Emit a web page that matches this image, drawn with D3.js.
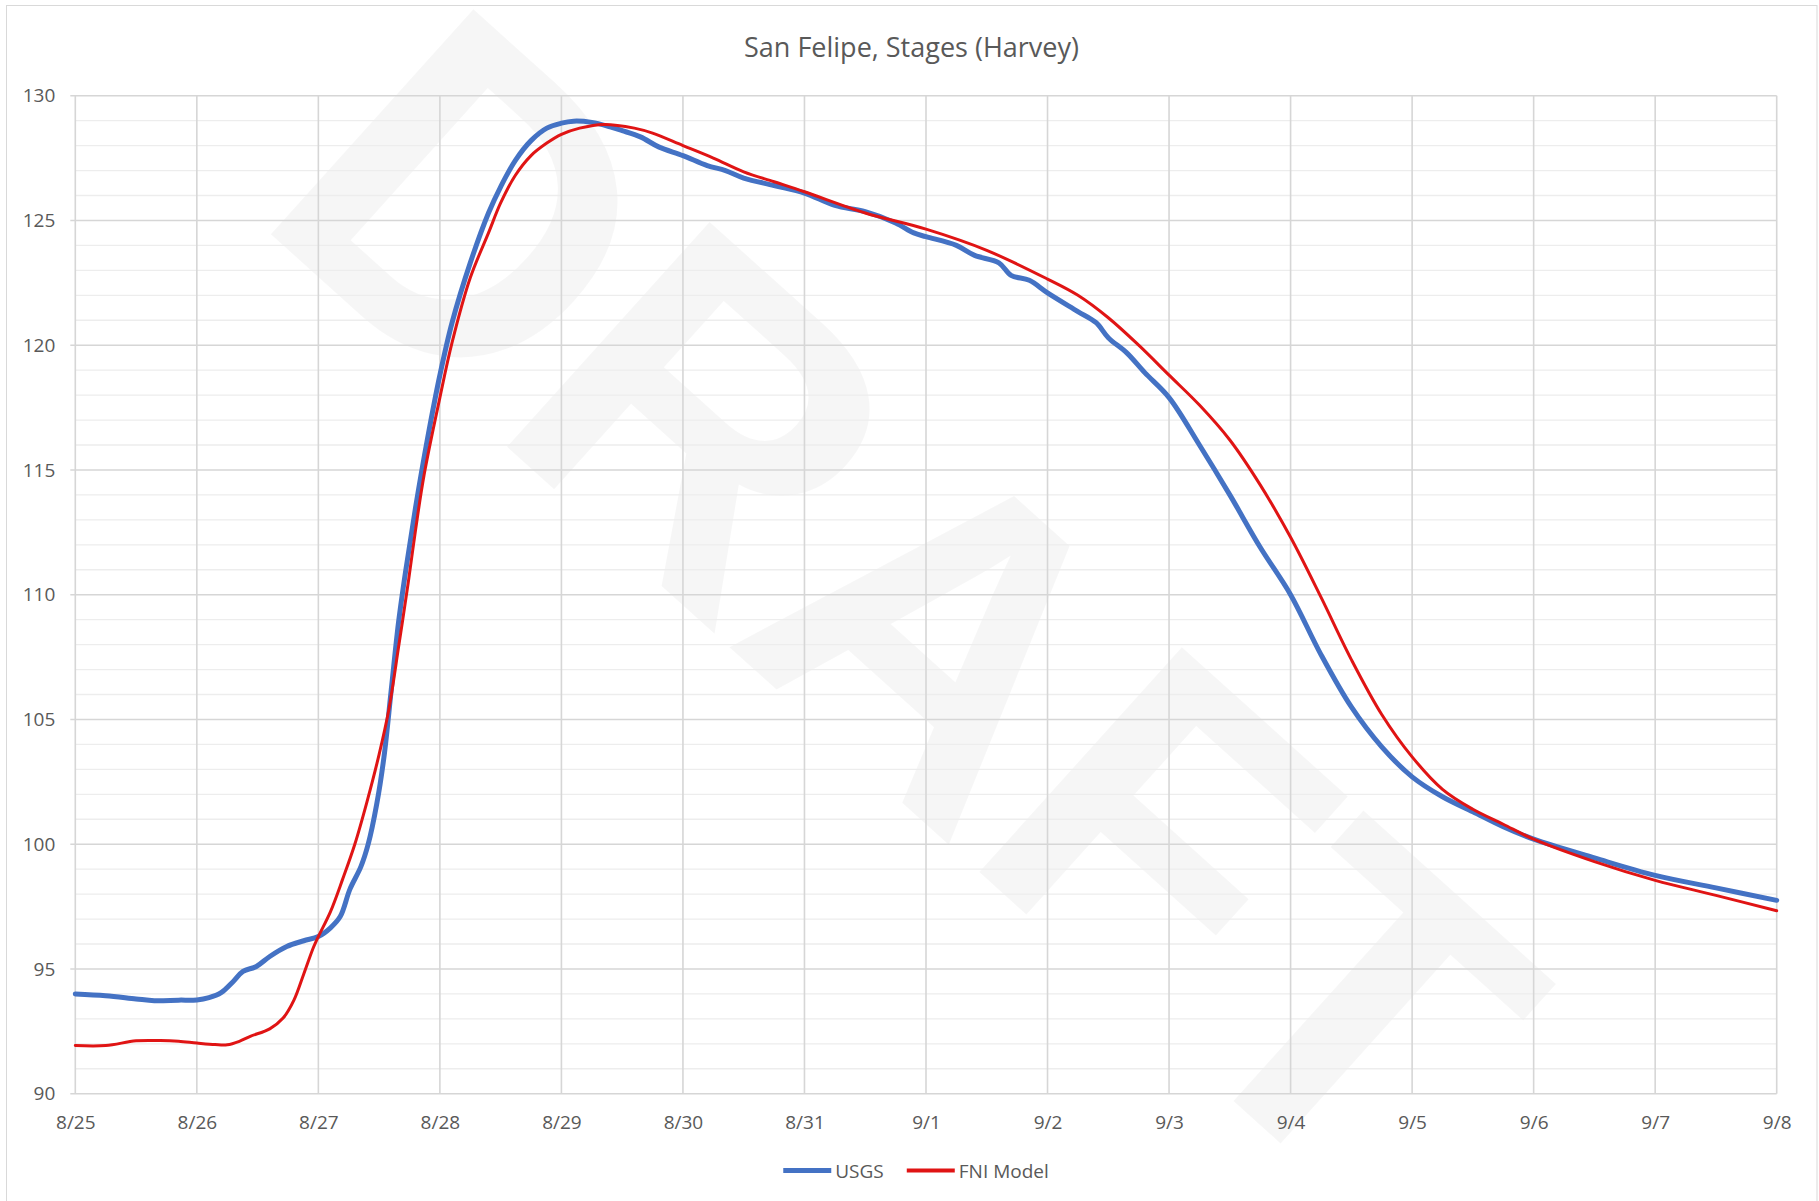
<!DOCTYPE html>
<html><head><meta charset="utf-8">
<script src="https://cdn.jsdelivr.net/npm/d3@7"></script>
<style>
body{margin:0;background:#fff}
svg{display:block}
text{font-family:"Open Sans",sans-serif}
</style>
</head><body>
<svg id="chart" width="1819" height="1201"></svg>
<script>
const chartTitle = "San Felipe, Stages (Harvey)";
const xTickLabels = ["8/25","8/26","8/27","8/28","8/29","8/30","8/31","9/1","9/2","9/3","9/4","9/5","9/6","9/7","9/8"];
const yTickValues = [90,95,100,105,110,115,120,125,130];
const seriesNames = ["USGS","FNI Model"];
const watermarkText = "DRAFT";

// days after 8/25 00:00
const usgsDays = [0,0.25,0.5,0.65,0.85,1.0,1.1,1.2,1.3,1.38,1.49,1.6,1.74,1.88,2.0,2.1,2.18,2.26,2.35,2.41,2.48,2.54,2.6,2.66,2.72,2.8,2.9,3.0,3.1,3.25,3.4,3.5,3.62,3.75,3.88,4.0,4.1,4.25,4.4,4.5,4.65,4.8,5.0,5.2,5.35,5.5,5.75,6.0,6.25,6.5,6.75,6.9,7.0,7.25,7.4,7.6,7.7,7.85,8.0,8.25,8.4,8.5,8.65,8.8,9.0,9.25,9.5,9.75,10.0,10.25,10.5,10.75,11.0,11.25,11.5,11.75,12.0,12.5,13.0,13.5,14.0];
const usgsStage = [94.0,93.93,93.8,93.73,93.75,93.76,93.85,94.05,94.5,94.9,95.1,95.5,95.9,96.13,96.3,96.65,97.1,98.2,99.1,100.0,101.6,103.5,106.2,108.9,111.0,113.5,116.3,118.8,120.9,123.3,125.3,126.35,127.4,128.2,128.7,128.9,128.98,128.93,128.75,128.6,128.35,127.95,127.6,127.2,127.0,126.7,126.4,126.1,125.6,125.35,124.9,124.5,124.35,124.0,123.6,123.3,122.8,122.6,122.1,121.35,120.9,120.3,119.7,118.9,117.9,116.0,114.0,111.9,110.0,107.6,105.5,103.9,102.7,101.9,101.3,100.7,100.2,99.45,98.75,98.25,97.75];

const fniDays = [0,0.25,0.5,0.7,0.85,1.0,1.15,1.25,1.35,1.44,1.6,1.71,1.8,1.88,1.96,2.0,2.1,2.2,2.3,2.4,2.5,2.58,2.66,2.74,2.8,2.87,3.0,3.1,3.25,3.4,3.5,3.62,3.75,3.88,4.0,4.15,4.35,4.6,4.75,5.0,5.25,5.5,5.75,6.0,6.5,7.0,7.5,8.0,8.25,8.5,8.75,9.0,9.25,9.5,9.75,10.0,10.25,10.5,10.75,11.0,11.25,11.5,11.75,12.0,12.5,13.0,13.5,14.0];
const fniStage = [91.93,91.93,92.12,92.13,92.1,92.03,91.97,91.96,92.1,92.3,92.6,93.03,93.76,94.8,95.87,96.3,97.3,98.6,100.0,101.7,103.6,105.4,107.9,110.5,112.6,114.8,117.9,120.1,122.7,124.5,125.7,126.8,127.6,128.1,128.45,128.7,128.85,128.7,128.5,128.0,127.5,126.95,126.55,126.15,125.3,124.65,123.8,122.65,122.0,121.1,120.0,118.8,117.6,116.2,114.4,112.3,109.9,107.4,105.2,103.5,102.2,101.4,100.8,100.2,99.3,98.55,97.95,97.33];

const seriesColors = ["#4472C4","#E01414"];
const seriesWidths = [5,3];

const W = 1819, H = 1201;
const svg = d3.select("#chart");
const plot = {left:75.3, right:1776.7, top:95.7, bottom:1093.7};

const x = d3.scaleLinear().domain([0, xTickLabels.length-1]).range([plot.left, plot.right]);
const y = d3.scaleLinear().domain([d3.min(yTickValues), d3.max(yTickValues)]).range([plot.bottom, plot.top]);

// background + border
svg.append("rect").attr("x",0).attr("y",0).attr("width",W).attr("height",H).attr("fill","#fff");
svg.append("rect").attr("x",6.5).attr("y",5.5).attr("width",1810.5).attr("height",1205)
  .attr("fill","none").attr("stroke","#d9d9d9").attr("stroke-width",1);

// watermark, letter by letter along a rotated baseline
const wm = svg.append("g").attr("transform","translate(905,600) rotate(42)");
const wmLetters = watermarkText.split("").map(ch =>
  wm.append("text").attr("y",0).attr("dominant-baseline","central")
    .style("font-family","'Liberation Sans',Arial,sans-serif").style("font-weight","700")
    .attr("font-size",440).attr("fill","#000").attr("fill-opacity",0.035).text(ch));
const wmWidths = wmLetters.map(t => t.node().getComputedTextLength());
let wx = -d3.sum(wmWidths)/2;
wmLetters.forEach((t,i)=>{ t.attr("x",wx); wx += wmWidths[i]; });

// minor grid
const g = svg.append("g");
const [y0,y1] = y.domain();
g.selectAll("line.minor").data(d3.range(y0,y1+1).filter(v=>v%5!==0)).join("line")
  .attr("x1",plot.left).attr("x2",plot.right).attr("y1",d=>y(d)).attr("y2",d=>y(d))
  .attr("stroke","#ededed").attr("stroke-width",1.3);
// major horizontal
g.selectAll("line.major").data(yTickValues).join("line")
  .attr("x1",plot.left-5).attr("x2",plot.right).attr("y1",d=>y(d)).attr("y2",d=>y(d))
  .attr("stroke","#d6d6d6").attr("stroke-width",1.6);
// vertical
g.selectAll("line.vert").data(d3.range(xTickLabels.length)).join("line")
  .attr("x1",d=>x(d)).attr("x2",d=>x(d)).attr("y1",plot.top).attr("y2",plot.bottom)
  .attr("stroke","#d6d6d6").attr("stroke-width",1.6);

// axes
const yAxis = svg.append("g").attr("transform",`translate(${plot.left},0)`)
  .call(d3.axisLeft(y).tickValues(yTickValues).tickSize(0).tickPadding(20));
const xAxis = svg.append("g").attr("transform",`translate(0,${plot.bottom})`)
  .call(d3.axisBottom(x).tickValues(d3.range(xTickLabels.length)).tickFormat(i=>xTickLabels[i]).tickSize(0).tickPadding(22));
[yAxis,xAxis].forEach(a=>{
  a.select(".domain").remove();
  a.selectAll("text").attr("fill","#595959").attr("font-size",19).style("font-family","'Open Sans',sans-serif");
});

// lines
const line = d3.line().x(d=>x(d[0])).y(d=>y(d[1])).curve(d3.curveCatmullRom.alpha(0.5));
const series = [
  {name:seriesNames[0], pts:d3.zip(usgsDays,usgsStage)},
  {name:seriesNames[1], pts:d3.zip(fniDays,fniStage)}
];
series.forEach((s,i)=>{
  svg.append("path").attr("d",line(s.pts)).attr("fill","none")
    .attr("stroke",seriesColors[i]).attr("stroke-width",seriesWidths[i])
    .attr("stroke-linejoin","round").attr("stroke-linecap","round");
});

// title
svg.append("text").attr("x",911.5).attr("y",46).attr("text-anchor","middle")
  .attr("dominant-baseline","central").attr("fill","#595959").attr("font-size",27)
  .text(chartTitle);

// legend
const leg = svg.append("g");
const legY = 1170.5;
let cx = 0;
series.forEach((s,i)=>{
  const it = leg.append("g");
  it.append("line").attr("x1",cx).attr("x2",cx+48).attr("y1",legY).attr("y2",legY)
    .attr("stroke",seriesColors[i]).attr("stroke-width",i===0?5:4);
  const t = it.append("text").attr("x",cx+52).attr("y",legY).attr("dominant-baseline","central")
    .attr("fill","#595959").attr("font-size",19).text(s.name);
  cx += 52 + t.node().getComputedTextLength() + 23;
});
const totalW = cx - 23;
leg.attr("transform",`translate(${916 - totalW/2},0)`);
</script>
</body></html>
